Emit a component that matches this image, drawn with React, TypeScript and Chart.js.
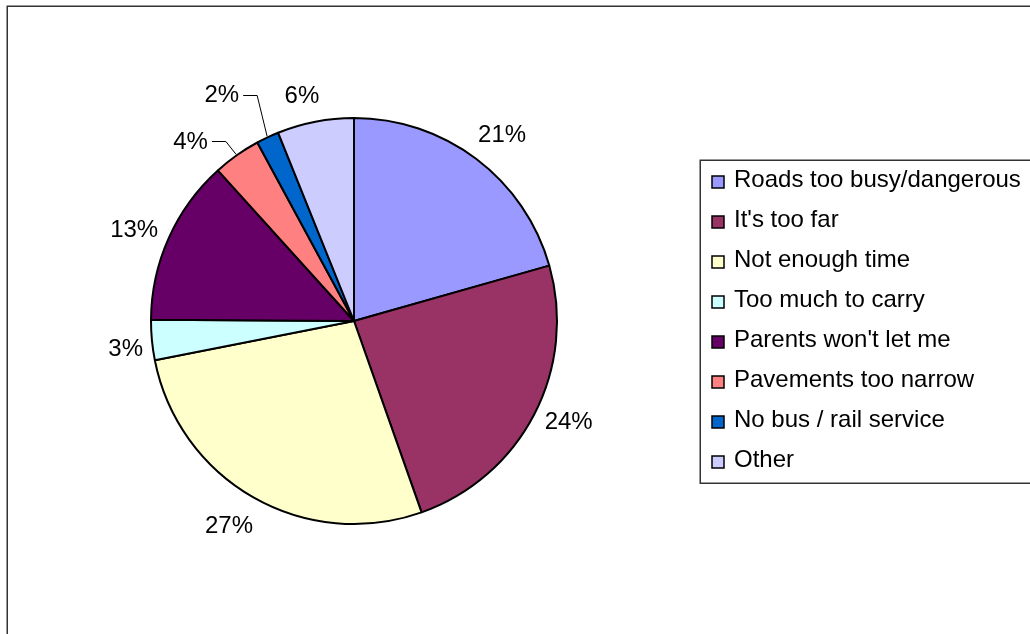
import React, { useEffect, useRef } from "react";
import { Chart, registerables } from "chart.js";

Chart.register(...registerables);

const categories = [
  "Roads too busy/dangerous",
  "It's too far",
  "Not enough time",
  "Too much to carry",
  "Parents won't let me",
  "Pavements too narrow",
  "No bus / rail service",
  "Other",
];
const values = [20.6, 24.0, 27.3, 3.2, 13.2, 3.8, 1.8, 6.1];
const colors = ["#9999FF", "#993366", "#FFFFCC", "#CCFFFF", "#660066", "#FF8080", "#0066CC", "#CCCCFF"];

const FONT = '24px "Liberation Sans", Arial, sans-serif';

// label placement tweaks (angle nudge in degrees, radial extra px, leader line)
const labelTweaks = [
  { da: 1.4, dr: 2, leader: false },
  { da: -2.3, dr: 1, leader: false },
  { da: 1.7, dr: 4, leader: false },
  { da: -1.5, dr: -6, leader: false },
  { da: -1.6, dr: 2, leader: false },
  { da: -7.0, dr: 7, leader: true },
  { da: -5.1, dr: 26, leader: true },
  { da: -2.0, dr: -4, leader: false },
];

const framePlugin = {
  id: "frame",
  beforeDraw(chart: any) {
    const ctx = chart.ctx;
    ctx.save();
    ctx.fillStyle = "#ffffff";
    ctx.fillRect(0, 0, chart.width, chart.height);
    ctx.strokeStyle = "#333333";
    ctx.lineWidth = 1.5;
    ctx.strokeRect(7.25, 6.25, chart.width + 20, chart.height + 20);
    ctx.restore();
  },
};

const labelsPlugin = {
  id: "pieLabels",
  afterDraw(chart: any) {
    const ctx = chart.ctx;
    const meta = chart.getDatasetMeta(0);
    const data = chart.data.datasets[0].data as number[];
    const total = data.reduce((a, b) => a + b, 0);
    ctx.save();
    ctx.font = FONT;
    ctx.fillStyle = "#000";
    ctx.textAlign = "center";
    ctx.textBaseline = "middle";
    meta.data.forEach((arc: any, i: number) => {
      const { x, y, startAngle, endAngle, outerRadius } = arc.getProps(
        ["x", "y", "startAngle", "endAngle", "outerRadius"],
        true
      );
      const mid = (startAngle + endAngle) / 2;
      const tw = labelTweaks[i] || { da: 0, dr: 0, leader: false };
      const ang = mid + (tw.da * Math.PI) / 180;
      const dist = outerRadius + 33 + tw.dr;
      const lx = x + Math.cos(ang) * dist;
      const ly = y + Math.sin(ang) * dist;
      const text = Math.round((data[i] / total) * 100) + "%";
      ctx.fillText(text, lx, ly + 1);
      if (tw.leader) {
        const w = ctx.measureText(text).width;
        const sx = lx + w / 2 + 4;
        const hx = sx + 14;
        const ex = x + Math.cos(mid) * (outerRadius + 1);
        const ey = y + Math.sin(mid) * (outerRadius + 1);
        ctx.beginPath();
        ctx.strokeStyle = "#000";
        ctx.lineWidth = 1;
        ctx.moveTo(sx, Math.round(ly) + 0.5);
        ctx.lineTo(hx, Math.round(ly) + 0.5);
        ctx.lineTo(ex, ey);
        ctx.stroke();
      }
    });
    ctx.restore();
  },
};

const legendPlugin = {
  id: "boxLegend",
  afterDraw(chart: any) {
    const ctx = chart.ctx;
    const labels = chart.data.labels as string[];
    const bg = chart.data.datasets[0].backgroundColor as string[];
    ctx.save();
    ctx.strokeStyle = "#333333";
    ctx.lineWidth = 1.5;
    ctx.strokeRect(700.25, 160.25, 400, 323);
    ctx.font = FONT;
    ctx.textAlign = "left";
    ctx.textBaseline = "alphabetic";
    labels.forEach((lab, i) => {
      const top = 176 + i * 40;
      ctx.fillStyle = bg[i];
      ctx.fillRect(712, top, 12, 12);
      ctx.strokeStyle = "#000";
      ctx.lineWidth = 1.5;
      ctx.strokeRect(712, top, 12, 12);
      ctx.fillStyle = "#000";
      ctx.fillText(lab, 734, top + 11);
    });
    ctx.restore();
  },
};

export default function App() {
  const ref = useRef<HTMLCanvasElement>(null);
  useEffect(() => {
    document.body.style.margin = "0";
    const chart = new Chart(ref.current!, {
      type: "pie",
      data: {
        labels: categories,
        datasets: [
          {
            data: values,
            backgroundColor: colors,
            borderColor: "#000",
            borderWidth: 2,
          },
        ],
      },
      options: {
        animation: false,
        responsive: false,
        events: [],
        layout: { padding: { left: 150, right: 472, top: 117, bottom: 109 } },
        plugins: {
          legend: { display: false },
          title: { display: false },
          tooltip: { enabled: false },
        },
      },
      plugins: [framePlugin, labelsPlugin, legendPlugin],
    });
    return () => chart.destroy();
  }, []);
  return <canvas ref={ref} width={1030} height={634} style={{ display: "block" }} />;
}
